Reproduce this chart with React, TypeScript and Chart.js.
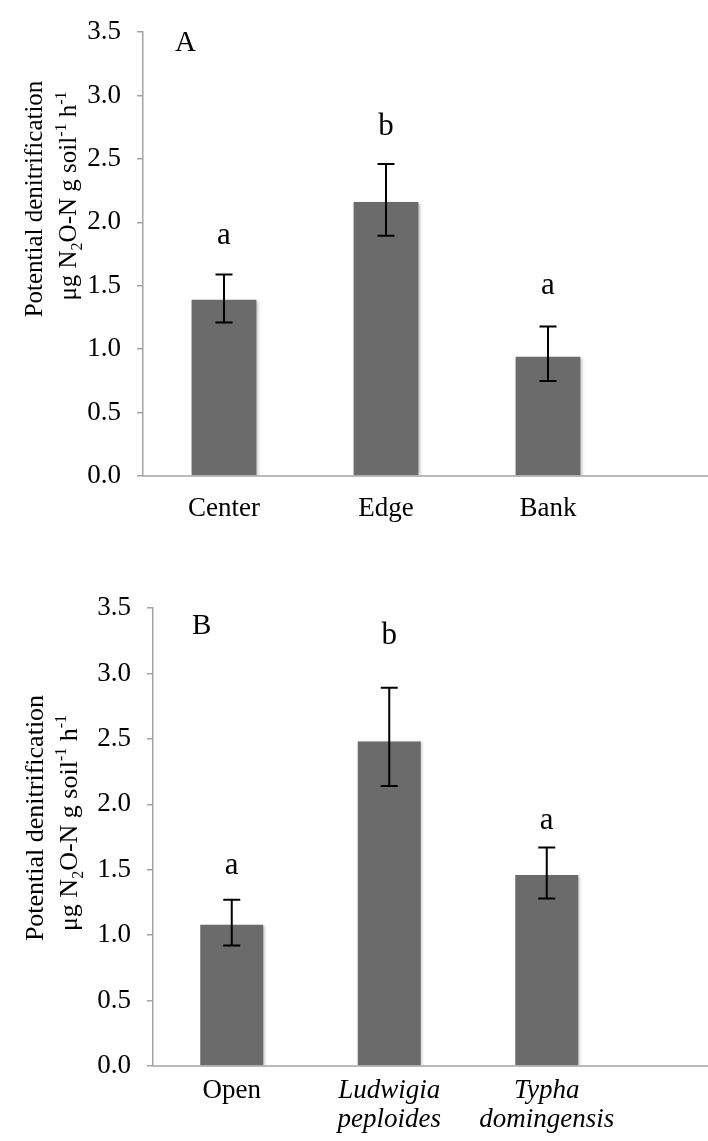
import React, { useEffect, useRef } from 'react';
import { Chart, registerables } from 'chart.js';

Chart.register(...registerables);

// ---- Data ----
const panelALabels: (string | string[])[] = ['Center', 'Edge', 'Bank'];
const panelAMeans = [1.39, 2.16, 0.94];
const panelAErrHigh = [1.59, 2.46, 1.18];
const panelAErrLow = [1.21, 1.895, 0.75];
const panelALetters = ['a', 'b', 'a'];

const panelBLabels: (string | string[])[] = ['Open', ['Ludwigia', 'peploides'], ['Typha', 'domingensis']];
const panelBMeans = [1.08, 2.48, 1.46];
const panelBErrHigh = [1.27, 2.89, 1.67];
const panelBErrLow = [0.92, 2.14, 1.28];
const panelBLetters = ['a', 'b', 'a'];

const yMin = 0;
const yMax = 3.5;
const yStep = 0.5;

const yTitleLine1 = 'Potential denitrification';

const AXIS = '#a3a3a3';
const BAR = '#6b6b6b';
const FONT = '"Liberation Serif", "Times New Roman", serif';

type Layout = {
  top: number;
  height: number;
  padTop: number;
  padRight: number;
  yWidth: number;
  xHeight: number;
  xPad: number;
  italicFrom: number;
  panelX: number;
  panelY: number;
  t1x: number;
  t1y: number;
  t2x: number;
  t2y: number;
  titleSize: number;
  letterGaps: number[];
};

function drawYTitle(ctx: CanvasRenderingContext2D, L: Layout) {
  const size = L.titleSize;
  ctx.save();
  ctx.fillStyle = '#000';
  ctx.textBaseline = 'alphabetic';
  ctx.translate(L.t1x, L.t1y);
  ctx.rotate(-Math.PI / 2);
  ctx.font = `${size}px ${FONT}`;
  ctx.textAlign = 'center';
  ctx.fillText(yTitleLine1, 0, 0);
  ctx.restore();

  const small = Math.round(size * 0.62);
  const segs: { t: string; k: 'n' | 'sub' | 'sup' }[] = [
    { t: 'μg N', k: 'n' },
    { t: '2', k: 'sub' },
    { t: 'O-N g soil', k: 'n' },
    { t: '-1', k: 'sup' },
    { t: ' h', k: 'n' },
    { t: '-1', k: 'sup' },
  ];
  ctx.save();
  ctx.fillStyle = '#000';
  ctx.textBaseline = 'alphabetic';
  ctx.textAlign = 'left';
  ctx.translate(L.t2x, L.t2y);
  ctx.rotate(-Math.PI / 2);
  let total = 0;
  const widths = segs.map((s) => {
    ctx.font = `${s.k === 'n' ? size : small}px ${FONT}`;
    const w = ctx.measureText(s.t).width;
    total += w;
    return w;
  });
  let x = -total / 2;
  segs.forEach((s, i) => {
    ctx.font = `${s.k === 'n' ? size : small}px ${FONT}`;
    const dy = s.k === 'sub' ? size * 0.22 : s.k === 'sup' ? -size * 0.42 : 0;
    ctx.fillText(s.t, x, dy);
    x += widths[i];
  });
  ctx.restore();
}

function Panel(props: {
  labels: (string | string[])[];
  means: number[];
  hi: number[];
  lo: number[];
  letters: string[];
  panel: string;
  L: Layout;
}) {
  const { labels, means, hi, lo, letters, panel, L } = props;
  const ref = useRef<HTMLCanvasElement>(null);

  useEffect(() => {
    const canvas = ref.current;
    if (!canvas) return;

    const extras = {
      id: 'extras',
      beforeDatasetsDraw(chart: any) {
        const ctx = chart.ctx as CanvasRenderingContext2D;
        ctx.save();
        ctx.shadowColor = 'rgba(0,0,0,0.28)';
        ctx.shadowBlur = 3;
        ctx.shadowOffsetX = 1.5;
        ctx.shadowOffsetY = 1;
      },
      afterDatasetsDraw(chart: any) {
        const ctx = chart.ctx as CanvasRenderingContext2D;
        ctx.restore();
        const meta = chart.getDatasetMeta(0);
        const ys = chart.scales.y;
        ctx.save();
        ctx.strokeStyle = '#000';
        ctx.lineWidth = 2;
        meta.data.forEach((bar: any, i: number) => {
          const x = bar.x;
          const yh = ys.getPixelForValue(hi[i]);
          const yl = ys.getPixelForValue(lo[i]);
          ctx.beginPath();
          ctx.moveTo(x, yh);
          ctx.lineTo(x, yl);
          ctx.moveTo(x - 8.5, yh);
          ctx.lineTo(x + 8.5, yh);
          ctx.moveTo(x - 8.5, yl);
          ctx.lineTo(x + 8.5, yl);
          ctx.stroke();
          ctx.fillStyle = '#000';
          ctx.font = `31px ${FONT}`;
          ctx.textAlign = 'center';
          ctx.textBaseline = 'alphabetic';
          ctx.fillText(letters[i], x, yh - L.letterGaps[i]);
        });
        ctx.restore();
      },
      afterDraw(chart: any) {
        const ctx = chart.ctx as CanvasRenderingContext2D;
        const a = chart.chartArea;
        ctx.save();
        ctx.strokeStyle = AXIS;
        ctx.lineWidth = 1.5;
        ctx.beginPath();
        ctx.moveTo(a.left, a.bottom);
        ctx.lineTo(chart.width, a.bottom);
        ctx.stroke();
        ctx.fillStyle = '#000';
        ctx.font = `29px ${FONT}`;
        ctx.textAlign = 'left';
        ctx.textBaseline = 'alphabetic';
        ctx.fillText(panel, L.panelX, L.panelY);
        ctx.restore();
        drawYTitle(ctx, L);
      },
    };

    const chart = new Chart(canvas, {
      type: 'bar',
      data: {
        labels: labels as any,
        datasets: [
          {
            data: means,
            backgroundColor: BAR,
            borderWidth: 0,
            barPercentage: 0.4,
            categoryPercentage: 1,
          },
        ],
      },
      options: {
        responsive: false,
        animation: false,
        devicePixelRatio: 1,
        layout: { padding: { top: L.padTop, right: L.padRight, left: 0, bottom: 0 } },
        plugins: { legend: { display: false }, tooltip: { enabled: false } },
        scales: {
          x: {
            type: 'category',
            offset: true,
            grid: { display: false, drawTicks: false },
            border: { display: false },
            ticks: {
              color: '#000',
              padding: L.xPad,
              maxRotation: 0,
              autoSkip: false,
              font: (c: any) => ({
                family: FONT,
                size: 27,
                lineHeight: 1.05,
                style: c.index >= L.italicFrom ? 'italic' : 'normal',
              }),
            },
            afterFit: (s: any) => {
              s.height = L.xHeight;
            },
          },
          y: {
            min: yMin,
            max: yMax,
            ticks: {
              stepSize: yStep,
              color: '#000',
              padding: 16,
              font: { family: FONT, size: 27 },
              callback: (v: any) => Number(v).toFixed(1),
            },
            grid: { drawOnChartArea: false, tickLength: 6, color: AXIS, lineWidth: 1.5 },
            border: { color: AXIS, width: 1.5 },
            afterFit: (s: any) => {
              s.width = L.yWidth;
            },
          },
        },
      },
      plugins: [extras],
    } as any);

    return () => chart.destroy();
  }, []);

  return (
    <canvas
      ref={ref}
      width={708}
      height={L.height}
      style={{ position: 'absolute', left: 0, top: L.top, width: 708, height: L.height, display: 'block' }}
    />
  );
}

const layoutA: Layout = {
  top: 0,
  height: 560,
  padTop: 17,
  padRight: 79,
  yWidth: 143,
  xHeight: 84,
  xPad: 19,
  italicFrom: 99,
  panelX: 175,
  panelY: 51,
  t1x: 42,
  t1y: 199,
  t2x: 76,
  t2y: 196,
  titleSize: 25,
  letterGaps: [30, 29, 32],
};

const layoutB: Layout = {
  top: 570,
  height: 571,
  padTop: 38,
  padRight: 82.5,
  yWidth: 153,
  xHeight: 75,
  xPad: 11,
  italicFrom: 1,
  panelX: 192,
  panelY: 64,
  t1x: 43,
  t1y: 248,
  t2x: 77,
  t2y: 253,
  titleSize: 26,
  letterGaps: [26, 44, 18],
};

export default function App() {
  return (
    <div style={{ position: 'absolute', left: 0, top: 0, width: 708, height: 1141, background: '#fff' }}>
      <Panel
        labels={panelALabels}
        means={panelAMeans}
        hi={panelAErrHigh}
        lo={panelAErrLow}
        letters={panelALetters}
        panel="A"
        L={layoutA}
      />
      <Panel
        labels={panelBLabels}
        means={panelBMeans}
        hi={panelBErrHigh}
        lo={panelBErrLow}
        letters={panelBLetters}
        panel="B"
        L={layoutB}
      />
    </div>
  );
}
